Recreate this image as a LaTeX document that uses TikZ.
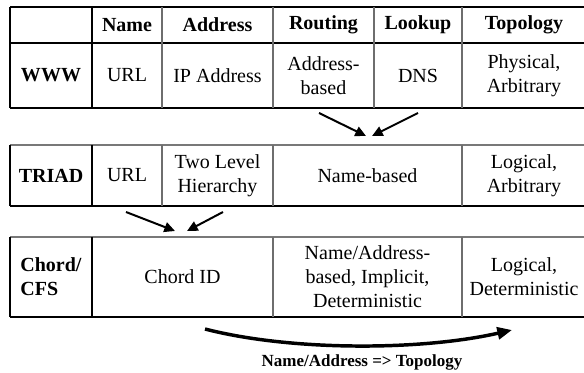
\documentclass[tikz,border=0pt]{standalone}
\usepackage{fontspec}
\setmainfont{Liberation Serif}
\usepackage{xcolor}
\usetikzlibrary{arrows.meta}

\tikzset{
  cell/.style={anchor=center, inner sep=0.75pt, align=center, font=\fontsize{15}{18}\selectfont},
  headcell/.style={cell, font=\fontsize{15}{18}\selectfont\bfseries},
  rule/.style={line width=1.1pt, color=black},
  heavyrule/.style={line width=2.2pt, color=black},
  softrule/.style={line width=0.8pt, color={rgb,255:red,110; green,110; blue,110}},
  toprule/.style={line width=1.1pt, color={rgb,255:red,120; green,120; blue,120}},
  maparrow/.style={line width=1.5pt, -{Triangle[length=8pt,width=7.5pt]}},
  bigarrow/.style={line width=2.6pt, -{Triangle[length=11pt,width=9pt]}}
}

\begin{document}
\begin{tikzpicture}[x=0.75pt,y=0.75pt,yscale=-1,xscale=1]
\useasboundingbox (0,0) rectangle (584,373);

%Table: WWW (header + one row)
\draw [rule]   (10,7) -- (586,7) ;
\draw [heavyrule]   (10,43) -- (586,43) ;
\draw [rule]   (10,108) -- (586,108) ;
\draw [rule]   (10,7) -- (10,108) ;
\draw [heavyrule]   (92,7) -- (92,108) ;
\draw [softrule]   (162,7) -- (162,108) ;
\draw [softrule]   (273,7) -- (273,108) ;
\draw [softrule]   (374,7) -- (374,108) ;
\draw [softrule]   (462,7) -- (462,108) ;
\draw [rule]   (586,7) -- (586,108) ;

%Table: TRIAD
\draw [toprule]   (10,145) -- (586,145) ;
\draw [rule]   (10,206) -- (586,206) ;
\draw [rule]   (10,145) -- (10,206) ;
\draw [heavyrule]   (92,145) -- (92,206) ;
\draw [softrule]   (162,145) -- (162,206) ;
\draw [softrule]   (273,145) -- (273,206) ;
\draw [softrule]   (462,145) -- (462,206) ;
\draw [rule]   (586,145) -- (586,206) ;

%Table: Chord/CFS
\draw [toprule]   (10,237) -- (586,237) ;
\draw [heavyrule]   (10,317) -- (586,317) ;
\draw [rule]   (10,237) -- (10,317) ;
\draw [heavyrule]   (92,237) -- (92,317) ;
\draw [softrule]   (273,237) -- (273,317) ;
\draw [softrule]   (462,237) -- (462,317) ;
\draw [rule]   (586,237) -- (586,317) ;

% Header Nodes
\node [headcell] (hdName) at (127,25) {Name};
\node [headcell] (hdAddress) at (217.5,25) {Address};
\node [headcell] (hdRouting) at (323.5,25) {Routing};
\node [headcell] (hdLookup) at (418,25) {Lookup};
\node [headcell] (hdTopology) at (524,25) {Topology};

% Text Node: WWW row
\node [headcell] (wwwSys) at (51,75.5) {WWW};
\node [cell] (wwwName) at (127,75.5) {URL};
\node [cell] (wwwAddress) at (217.5,75.5) {IP Address};
\node [cell] (wwwRouting) at (323.5,75.5) {Address-\\based};
\node [cell] (wwwLookup) at (418,75.5) {DNS};
\node [cell] (wwwTopology) at (524,75.5) {Physical,\\Arbitrary};

% Text Node: TRIAD row
\node [headcell] (triadSys) at (51,175.5) {TRIAD};
\node [cell] (triadName) at (127,175.5) {URL};
\node [cell] (triadAddress) at (217.5,175.5) {Two Level\\Hierarchy};
\node [cell] (triadRouting) at (367.5,175.5) {Name-based};
\node [cell] (triadTopology) at (524,175.5) {Logical,\\Arbitrary};

% Text Node: Chord/CFS row
\node [headcell, align=left] (chordSys) at (51,277) {Chord/\\CFS};
\node [cell] (chordName) at (182.5,277) {Chord ID};
\node [cell] (chordRouting) at (367.5,277) {Name/Address-\\based, Implicit,\\Deterministic};
\node [cell] (chordTopology) at (524,277) {Logical,\\Deterministic};

%Arrows between the tables
\coordinate (wwwL) at (319,113);
\coordinate (wwwR) at (418,113);
\coordinate (triadInL) at (366,136);
\coordinate (triadInR) at (372,136);
\draw [maparrow]   (wwwL) -- (triadInL) ;
\draw [maparrow]   (wwwR) -- (triadInR) ;

\coordinate (triadL) at (126,212);
\coordinate (triadR) at (223,212);
\coordinate (chordInL) at (175,231);
\coordinate (chordInR) at (187,231);
\draw [maparrow]   (triadL) -- (chordInL) ;
\draw [maparrow]   (triadR) -- (chordInR) ;

%Curved arrow under the last table
\coordinate (mapFrom) at (205,329);
\coordinate (mapTo) at (512,330);
\draw [bigarrow]   (mapFrom) .. controls (290,351) and (420,351) .. (mapTo) ;

% Text Node
\node [cell, font=\fontsize{12.75}{15}\selectfont\bfseries] (mapLabel) at (362,362) {Name/Address => Topology};

\end{tikzpicture}
\end{document}
